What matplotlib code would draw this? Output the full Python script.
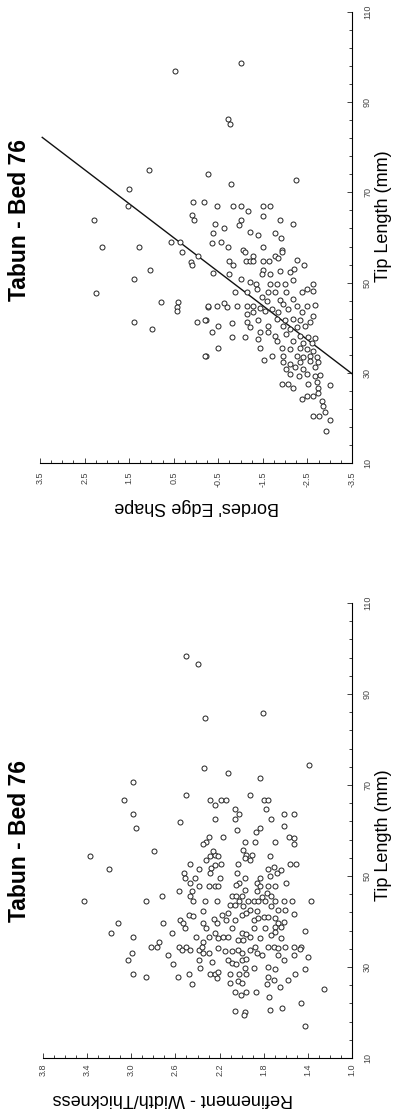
import matplotlib
matplotlib.use('Agg')

import numpy as np
import matplotlib.pyplot as plt
from matplotlib.ticker import MultipleLocator, FixedLocator

plt.rcParams['font.family'] = ['Liberation Sans', 'DejaVu Sans']
plt.rcParams['axes.unicode_minus'] = False

# Panel 1: Bordes' edge shape vs tip length (mm)
bordes_tip = [
    97.0, 75.0, 74.0, 70.8, 67.0, 67.8, 67.8, 63.9, 64.9, 63.8, 57.8, 57.8, 59.0, 59.0,
    98.7, 86.2, 85.1, 71.9, 72.8, 67.0, 67.0, 67.0, 65.8, 67.0, 67.0, 64.7, 63.9, 62.9,
    63.9, 62.7, 62.9, 62.2, 61.0, 61.3, 60.6, 61.0, 59.8, 58.7, 59.0, 57.8, 57.3, 57.8, 57.3,
    56.7, 54.5, 53.8, 55.8, 52.8, 50.8, 47.7, 45.8, 45.8, 44.5, 43.8, 44.7, 41.3, 39.7, 41.3,
    41.7, 33.8,
    56.7, 56.0, 56.0, 56.7, 54.9, 54.0, 54.7, 54.7, 54.7, 54.7, 54.7, 55.5, 55.0, 53.8,
    52.1, 51.9, 52.7, 51.8, 51.8, 52.5, 52.3, 53.0, 50.8, 50.1, 49.7, 49.7, 49.7, 49.7,
    50.6, 49.7, 47.9, 47.9, 47.9, 47.9, 47.9, 47.9, 48.6, 48.2, 48.6, 46.7, 46.0, 46.2,
    46.4, 45.3, 44.9, 44.9, 45.4, 44.7, 44.9, 44.9, 44.9, 44.4, 43.8, 44.2, 43.4, 44.2,
    44.9, 44.9, 45.1, 43.4, 42.7, 43.0, 43.4, 41.6, 41.9, 41.6, 41.9, 41.6, 41.2, 41.6,
    40.4, 41.0, 41.2, 40.1, 40.4, 40.4, 39.7, 40.1, 40.4, 39.0, 37.9, 37.9, 39.0, 39.0,
    38.2, 38.6, 38.2, 37.9, 37.7, 37.5, 37.1, 37.1, 36.7, 36.7, 35.6, 35.6, 35.6, 35.3,
    35.6, 35.3, 34.9, 33.8, 33.8, 33.8, 33.8, 33.4, 33.8, 33.4,
    32.8, 32.3, 31.9, 32.3, 32.7, 32.3, 30.8, 31.2, 30.8, 31.2, 29.7, 29.3, 29.7, 29.3,
    29.6, 27.5, 27.6, 26.7, 27.5, 27.9, 26.7, 27.3, 24.2, 24.9, 24.9, 25.6, 23.8, 22.7,
    20.4, 20.4, 21.2, 19.5, 17.1,
]
bordes_edge = [
    0.46, 1.05, -0.26, 1.50, 1.53, 0.07, -0.17, 2.28, 0.10, 0.04, 2.12, 1.29, 0.55, 0.36,
    -1.00, -0.72, -0.76, -0.78, -2.24, -0.46, -0.84, -1.00, -1.16, -1.51, -1.65, -1.50, -1.89, -2.18,
    -1.00, -0.97, -0.43, -0.63, -0.39, -1.21, -1.40, -1.77, -1.90, -0.37, -0.55, -0.71, -1.06, -1.50, -1.92,
    0.32, 0.11, 0.10, -0.05, 1.03, 1.39, 2.24, 0.79, 0.40, 0.43, 0.43, -0.26, 1.38, 0.99, -0.03,
    -0.22, -0.22,
    -1.10, -1.27, -1.77, -1.92, -0.73, -0.82, -1.12, -1.21, -1.29, -1.51, -1.64, -1.83, -2.27, -2.42,
    -0.39, -0.73, -1.51, -1.66, -1.47, -1.89, -2.12, -2.20, -1.02, -1.21, -1.35, -1.66, -1.81, -2.00,
    -2.18, -2.63, -0.88, -1.14, -1.62, -1.77, -2.03, -2.37, -2.48, -2.63, -1.36, -1.47, -1.59, -1.89,
    -2.18, -1.96, -0.28, -0.46, -0.63, -0.69, -0.91, -1.14, -1.29, -1.44, -1.55, -1.70, -1.85, -2.07,
    -2.26, -2.48, -2.67, -2.37, -2.63, -1.14, -1.29, -1.40, -1.81, -2.00, -2.18, -2.33, -2.56, -0.20,
    -0.50, -0.80, -1.14, -1.21, -1.62, -1.96, -2.11, -2.26, -2.45, -0.35, -0.80, -1.10, -1.44, -1.62,
    -1.77, -2.03, -2.33, -2.52, -2.67, -1.40, -1.81, -2.18, -2.41, -2.60, -0.50, -1.44, -1.92, -2.11,
    -2.33, -2.48, -2.63, -0.20, -1.70, -1.96, -2.26, -2.41, -2.56, -2.71,
    -1.53, -1.96, -2.11, -2.33, -2.56, -2.74, -2.03, -2.22, -2.41, -2.67, -2.11, -2.30, -2.48, -2.67,
    -2.78, -1.92, -2.07, -2.18, -2.52, -2.71, -2.74, -3.01, -2.37, -2.48, -2.63, -2.74, -2.82, -2.86,
    -2.63, -2.77, -2.89, -3.01, -2.92,
]
# regression line end points (tip, edge)
fit_tip = [29.8, 82.2]
fit_edge = [-3.5, 3.45]

# Panel 2: refinement (width/thickness) vs tip length (mm)
refine_tip = [
    98.4, 96.7, 84.7, 85.8, 74.5, 73.7, 72.6, 71.6, 70.6, 66.6, 67.7, 66.6, 65.5, 66.6, 66.6,
    67.7, 66.6, 66.6, 63.6, 60.5, 61.9, 62.5, 64.7, 63.6, 62.5, 64.7, 62.5, 63.6, 63.6, 61.0,
    60.1, 59.7, 60.5, 58.6, 58.6, 57.5, 57.0, 57.5, 57.5, 57.5, 58.6, 58.3, 57.0,
    54.5, 55.6, 51.5, 54.4, 54.6, 54.4, 55.6, 53.5, 51.7, 50.6, 52.4, 52.6, 52.6, 51.5, 50.6,
    49.5, 48.5, 49.5, 47.7, 46.6, 45.5, 44.6, 46.6, 47.7, 47.7, 47.7, 49.5, 44.6, 52.6, 50.6,
    49.5, 48.5, 48.0, 46.9, 55.7, 54.6, 54.6, 53.9, 53.5, 54.4, 51.5, 52.0, 50.6, 51.3, 49.9,
    52.6, 52.6, 48.5, 49.5, 48.5, 47.7, 47.7, 47.7, 46.6, 46.2, 44.6, 44.6, 45.5, 44.6, 45.5,
    45.5, 45.5, 43.6, 43.6, 44.6, 43.3, 44.4, 44.6, 44.4, 45.3, 44.6, 45.5, 44.4, 44.6, 44.6,
    44.6, 42.5, 42.2, 43.3, 42.5, 42.5, 41.6, 39.7, 37.5, 36.7, 39.7, 37.5, 40.3, 39.7, 38.5,
    41.4, 41.2, 42.4, 39.7, 38.5, 40.5, 39.7, 41.4, 40.3, 41.8, 40.3, 41.4, 41.8, 40.3, 40.7,
    40.9, 40.9, 40.7, 39.7, 40.0, 38.5, 37.5, 37.3, 38.5, 38.5, 38.7, 38.7, 37.8, 38.0, 36.7,
    35.6, 36.7, 37.4, 36.3, 36.7, 36.7, 35.9, 35.9, 36.7, 36.3, 37.0, 36.3, 34.5, 34.5, 35.6,
    33.1, 31.5, 32.6, 34.5, 33.7, 34.5, 33.7, 33.7, 34.5, 33.0, 33.1, 34.1, 33.6, 33.6, 33.7,
    33.0, 33.7, 34.5, 33.0, 32.6, 34.5, 34.5, 34.1, 34.5, 34.5, 34.5, 33.9, 32.3, 32.6, 30.7,
    31.5, 29.7, 31.2, 31.5, 30.8, 30.7, 31.5, 31.7, 32.6, 31.5, 28.5, 27.7, 27.7, 28.5, 26.3,
    28.5, 28.5, 29.0, 27.5, 28.5, 28.5, 28.5, 29.7, 29.7, 30.1, 29.5, 26.4, 27.0, 26.4, 27.7,
    27.1, 26.3, 25.7, 27.1, 28.5, 29.6, 25.2, 24.4, 23.9, 24.6, 24.4, 23.5, 22.0, 20.4, 20.2,
    19.5, 20.5, 20.9, 17.0,
]
refine_ratio = [
    2.50, 2.40, 2.33, 1.81, 1.39, 2.34, 2.12, 1.83, 2.98, 3.07, 2.50, 2.29, 2.24, 2.19, 2.14,
    1.92, 1.80, 1.76, 2.98, 2.96, 2.56, 2.24, 2.06, 2.02, 2.06, 1.78, 1.73, 1.62, 1.53, 1.62,
    2.04, 1.87, 1.83, 2.17, 2.30, 2.32, 2.35, 1.97, 1.88, 1.70, 1.57, 1.53, 1.53,
    3.37, 2.79, 3.20, 2.29, 2.24, 2.21, 2.26, 2.32, 2.28, 2.29, 2.24, 2.19, 2.47, 2.39, 2.52,
    2.51, 2.47, 2.42, 2.39, 2.45, 2.47, 2.44, 2.57, 2.30, 2.24, 2.21, 2.20, 2.22, 2.03, 2.04,
    1.97, 2.02, 2.05, 1.97, 1.99, 1.96, 1.91, 1.97, 1.92, 1.74, 1.76, 1.71, 1.68, 1.64, 1.74,
    1.56, 1.51, 1.60, 1.83, 1.86, 1.83, 1.76, 1.70, 1.86, 1.77, 3.43, 2.87, 2.72, 2.33, 2.09,
    2.05, 2.00, 2.11, 2.06, 2.02, 1.99, 1.94, 1.89, 1.85, 1.82, 1.79, 1.73, 1.70, 1.62, 1.54,
    1.37, 1.92, 1.86, 1.73, 1.67, 1.61, 1.53, 3.12, 3.18, 2.98, 2.71, 2.63, 2.56, 2.53, 2.51,
    2.48, 2.44, 2.35, 2.35, 2.32, 2.25, 2.22, 2.18, 2.14, 2.12, 2.06, 2.00, 1.96, 1.89, 1.85,
    1.80, 1.76, 1.70, 1.67, 1.62, 2.09, 2.00, 1.96, 1.89, 1.79, 1.70, 1.64, 1.70, 1.43, 2.41,
    2.35, 2.30, 2.24, 2.21, 2.17, 2.12, 2.03, 1.99, 1.92, 1.83, 1.73, 1.64, 2.82, 2.77, 2.75,
    2.99, 3.03, 2.67, 2.57, 2.54, 2.50, 2.47, 2.39, 2.36, 2.35, 2.30, 2.21, 2.15, 2.09, 2.03,
    2.00, 1.92, 1.88, 1.86, 1.82, 1.76, 1.71, 1.67, 1.61, 1.53, 1.46, 1.47, 1.40, 1.53, 2.62,
    2.39, 2.38, 2.27, 2.12, 2.09, 2.05, 2.00, 1.96, 1.67, 1.62, 2.98, 2.87, 2.58, 2.48, 2.45,
    2.29, 2.24, 2.21, 2.22, 2.11, 2.02, 1.96, 1.89, 1.97, 1.76, 1.70, 2.11, 2.03, 2.00, 1.76,
    1.71, 1.77, 1.65, 1.58, 1.52, 1.43, 1.25, 2.06, 2.01, 1.96, 1.87, 1.75, 1.46, 2.06, 1.97,
    1.98, 1.74, 1.63, 1.43,
]

tip_ticks = [10, 30, 50, 70, 90, 110]
bordes_ticks = [3.5, 2.5, 1.5, 0.5, -0.5, -1.5, -2.5, -3.5]
refine_ticks = [3.8, 3.4, 3.0, 2.6, 2.2, 1.8, 1.4, 1.0]

W, H = 394, 1116
fig = plt.figure(figsize=(W / 100, H / 100), dpi=100)


def fx(px):
    return px / W


def fy(py):
    return 1 - py / H


def style_axes(ax, vticks, vlim, vminor, vfmt, vpad):
    ax.set_xlim(*vlim)
    ax.set_ylim(10, 110)
    for s in ['top', 'left']:
        ax.spines[s].set_visible(False)
    for s in ['bottom', 'right']:
        ax.spines[s].set_linewidth(0.8)
    ax.yaxis.tick_right()
    ax.set_xticks(vticks)
    ax.set_xticklabels([vfmt.format(v) for v in vticks])
    ax.xaxis.set_minor_locator(MultipleLocator(vminor))
    ax.set_yticks(tip_ticks)
    ax.set_yticklabels([str(t) for t in tip_ticks])
    ax.yaxis.set_minor_locator(FixedLocator(np.arange(10, 111, 4)))
    ax.tick_params(which='both', direction='in', color='#222', width=0.6)
    ax.tick_params(which='major', length=3.5)
    ax.tick_params(which='minor', length=2)
    ax.tick_params(axis='x', labelrotation=90, labelsize=6.5, labelcolor='#444', pad=vpad)
    ax.tick_params(axis='y', labelrotation=90, labelsize=6.5, labelcolor='#444', pad=8)
    for lab in ax.get_yticklabels():
        lab.set_verticalalignment('center')


# top panel (Bordes)
ax1 = fig.add_axes([fx(40), fy(463), fx(312), 451 / H])
ax1.scatter(bordes_edge, bordes_tip, s=13, facecolors='white', edgecolors='#222',
            linewidths=0.7, zorder=3)
ax1.plot(fit_edge, fit_tip, color='#111', lw=1.0, zorder=2)
style_axes(ax1, bordes_ticks, (3.5, -3.5), 0.25, '{:.1f}', 6)

# bottom panel (Refinement)
ax2 = fig.add_axes([fx(43), fy(1058), fx(309), 455 / H])
ax2.scatter(refine_ratio, refine_tip, s=13, facecolors='white', edgecolors='#222',
            linewidths=0.7, zorder=3)
style_axes(ax2, refine_ticks, (3.8, 1.0), 0.1, '{:.1f}', 4)

# titles and axis labels (figure is turned on its side)
fig.text(fx(20), fy(220), 'Tabun - Bed 76', rotation=90, fontsize=16.5,
         fontweight='bold', ha='center', va='center')
fig.text(fx(20), fy(841), 'Tabun - Bed 76', rotation=90, fontsize=16.5,
         fontweight='bold', ha='center', va='center')
fig.text(fx(383), fy(216), 'Tip Length (mm)', rotation=90, fontsize=13,
         ha='center', va='center')
fig.text(fx(383), fy(835), 'Tip Length (mm)', rotation=90, fontsize=13,
         ha='center', va='center')
fig.text(fx(197), fy(507), "Bordes' Edge Shape", rotation=180, fontsize=13,
         ha='center', va='center')
fig.text(fx(173), fy(1098), 'Refinement - Width/Thickness', rotation=180, fontsize=13,
         ha='center', va='center')

fig.savefig('out.png', dpi=100)
